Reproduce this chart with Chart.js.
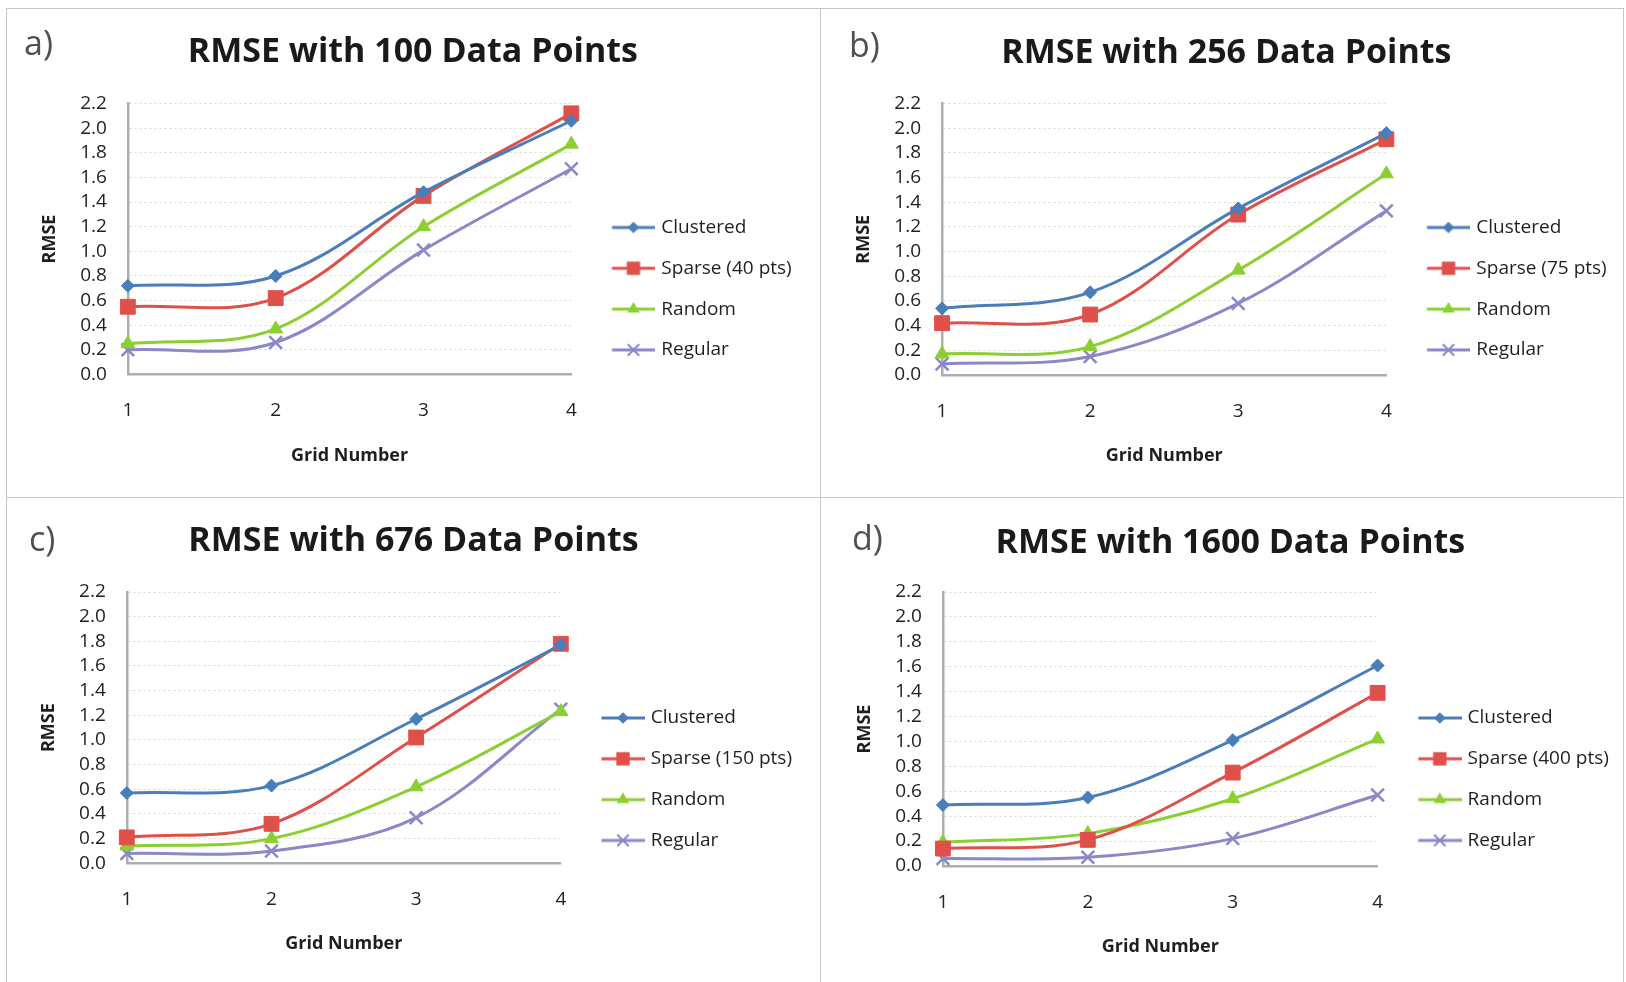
<!DOCTYPE html>
<html><head><meta charset="utf-8">
<script src="https://cdn.jsdelivr.net/npm/chart.js@4.4.1/dist/chart.umd.min.js"></script>
<style>
html,body{margin:0;padding:0;background:#fff;width:1626px;height:982px;overflow:hidden;position:relative}
.ln{position:absolute;background:#c6c6c6}
canvas{position:absolute}
.lab{position:absolute;font-family:'Open Sans',sans-serif;font-size:34px;color:#505050;line-height:34px;white-space:nowrap}
</style></head><body>
<div class="ln" style="left:6px;top:8px;width:1618px;height:1px"></div>
<div class="ln" style="left:6px;top:8px;width:1px;height:974px"></div>
<div class="ln" style="left:1623px;top:8px;width:1px;height:974px"></div>
<div class="ln" style="left:820px;top:8px;width:1px;height:974px"></div>
<div class="ln" style="left:6px;top:497px;width:1618px;height:1px"></div>
<script>
// ---- data ----
const gridNumbers = ['1', '2', '3', '4'];
const panelTitles = ['RMSE with 100 Data Points', 'RMSE with 256 Data Points', 'RMSE with 676 Data Points', 'RMSE with 1600 Data Points'];
const panelLetters = ['a)', 'b)', 'c)', 'd)'];
const sparseNames = ['Sparse (40 pts)', 'Sparse (75 pts)', 'Sparse (150 pts)', 'Sparse (400 pts)'];
const seriesNames = ['Clustered', 'Sparse', 'Random', 'Regular'];

const clustered100 = [0.72, 0.80, 1.48, 2.06];
const sparse100    = [0.55, 0.62, 1.45, 2.12];
const random100    = [0.25, 0.37, 1.20, 1.87];
const regular100   = [0.20, 0.26, 1.01, 1.67];

const clustered256 = [0.54, 0.67, 1.35, 1.96];
const sparse256    = [0.42, 0.49, 1.30, 1.91];
const random256    = [0.17, 0.23, 0.85, 1.63];
const regular256   = [0.09, 0.15, 0.58, 1.33];

const clustered676 = [0.57, 0.63, 1.17, 1.77];
const sparse676    = [0.21, 0.32, 1.02, 1.78];
const random676    = [0.14, 0.20, 0.62, 1.23];
const regular676   = [0.08, 0.10, 0.37, 1.25];

const clustered1600 = [0.49, 0.55, 1.01, 1.61];
const sparse1600    = [0.14, 0.21, 0.75, 1.39];
const random1600    = [0.19, 0.26, 0.54, 1.02];
const regular1600   = [0.06, 0.07, 0.22, 0.57];

const yMin = 0, yMax = 2.2, yStep = 0.2;

// ---- styles / layout ----
const FONT = "'Open Sans', sans-serif";
const colors = ['#4a7ebb', '#e0504a', '#8ccf32', '#8a88c8'];
const styles = ['rectRot', 'rect', 'triangle', 'crossRot'];
const radii = [6.5, 10.5, 8, 9];
const panelGeom = [
  {L0: 6,   R0: 820,  T0: 8,   B0: 497, plotL: 127.5, plotR: 571,    plotT: 103.5, plotB: 374.5, tcx: 412.5, tcy: 52.5, ytx: 49.5, lx: 24,  lb: 55,  leg1: 227.5},
  {L0: 820, R0: 1624, T0: 8,   B0: 497, plotL: 941.7, plotR: 1386,   plotT: 103.5, plotB: 375,   tcx: 1226,  tcy: 53,   ytx: 864,  lx: 849, lb: 57,  leg1: 227.5},
  {L0: 6,   R0: 820,  T0: 497, B0: 982, plotL: 127,   plotR: 561,    plotT: 592,   plotB: 863.3, tcx: 413.7, tcy: 541.7, ytx: 49,  lx: 29,  lb: 551, leg1: 718},
  {L0: 820, R0: 1624, T0: 497, B0: 982, plotL: 942.5, plotR: 1377.2, plotT: 592,   plotB: 866,   tcx: 1230,  tcy: 543,  ytx: 864,  lx: 852, lb: 550, leg1: 718}
];
const panelData = [
  [clustered100, sparse100, random100, regular100],
  [clustered256, sparse256, random256, regular256],
  [clustered676, sparse676, random676, regular676],
  [clustered1600, sparse1600, random1600, regular1600]
];

const LEG_FS = 19, LEG_PAD = 21.8, LEG_BW = 58.7;
const TITLE_FS = 34, AX_TITLE_FS = 18, TICK_FS = 19;

function legendImage(i) {
  const c = document.createElement('canvas');
  c.width = 66; c.height = 26;
  const g = c.getContext('2d');
  g.strokeStyle = colors[i]; g.fillStyle = colors[i];
  g.lineWidth = 3;
  g.beginPath(); g.moveTo(22.5, 13); g.lineTo(66, 13); g.stroke();
  const cx = 44, cy = 13, r = radii[i] * 0.9;
  g.lineWidth = 2;
  g.beginPath();
  if (styles[i] === 'rectRot') {
    g.moveTo(cx, cy - r); g.lineTo(cx + r, cy); g.lineTo(cx, cy + r); g.lineTo(cx - r, cy); g.closePath(); g.fill();
  } else if (styles[i] === 'rect') {
    const s = r * Math.SQRT1_2; g.rect(cx - s, cy - s, 2 * s, 2 * s); g.fill();
  } else if (styles[i] === 'triangle') {
    g.moveTo(cx, cy - r); g.lineTo(cx + r * 0.866, cy + r * 0.5); g.lineTo(cx - r * 0.866, cy + r * 0.5); g.closePath(); g.fill();
  } else {
    const d = r * Math.SQRT1_2;
    g.moveTo(cx - d, cy - d); g.lineTo(cx + d, cy + d); g.moveTo(cx + d, cy - d); g.lineTo(cx - d, cy + d); g.stroke();
  }
  return c;
}
const legendImgs = [0, 1, 2, 3].map(legendImage);

function measure(text, font) {
  const c = document.createElement('canvas').getContext('2d');
  c.font = font; return c.measureText(text).width;
}

function build() {
  panelGeom.forEach((G, p) => {
    const names = [seriesNames[0], sparseNames[p], seriesNames[2], seriesNames[3]];
    const maxText = Math.max(...names.map(n => measure(n, LEG_FS + 'px ' + FONT)));
    const C = LEG_PAD + LEG_BW + LEG_FS / 2 + maxText + 10;
    let L = 2 * G.tcx - G.plotR - C;
    const Lmax = G.ytx - AX_TITLE_FS * 0.6 - 1;
    if (L > Lmax) L = Lmax;
    const legW = 2 * G.tcx - G.plotR - L;
    let right = Math.max(G.R0, G.plotR + legW);
    const W = Math.round(right - L);
    const padR = (L + W) - (G.plotR + legW);
    const T = G.T0, H = G.B0 - G.T0;
    const tlh = TITLE_FS * 1.2;
    const tPadTop = G.tcy - T - tlh / 2;
    const tPadBot = G.plotT - T - tPadTop - tlh;
    const xH = 81 + AX_TITLE_FS * 0.6;
    const padB = (T + H) - (G.plotB + xH);
    const legTitleH = G.leg1 - T - LEG_PAD - LEG_FS / 2;

    const cv = document.createElement('canvas');
    cv.width = W; cv.height = H;
    cv.style.left = L + 'px'; cv.style.top = T + 'px';
    cv.style.width = W + 'px'; cv.style.height = H + 'px';
    document.body.appendChild(cv);

    const lab = document.createElement('div');
    lab.className = 'lab'; lab.textContent = panelLetters[p];
    lab.style.left = G.lx + 'px'; lab.style.top = (G.lb - 30.2) + 'px';
    document.body.appendChild(lab);

    const datasets = panelData[p].map((arr, i) => ({
      label: names[i],
      data: arr,
      borderColor: colors[i],
      backgroundColor: colors[i],
      pointBackgroundColor: colors[i],
      pointBorderColor: colors[i],
      borderWidth: 3,
      pointStyle: styles[i],
      pointRadius: radii[i],
      pointBorderWidth: styles[i] === 'crossRot' ? 2.5 : 1,
      tension: 0.35,
      fill: false,
      clip: false
    }));

    new Chart(cv, {
      type: 'line',
      data: {labels: gridNumbers, datasets},
      options: {
        responsive: false, animation: false, devicePixelRatio: 1,
        layout: {padding: {left: 0, top: 0, right: padR, bottom: padB}},
        plugins: {
          title: {display: true, text: panelTitles[p], color: '#1a1a1a',
                  font: {family: FONT, size: TITLE_FS, weight: 'bold'},
                  padding: {top: tPadTop, bottom: tPadBot}},
          legend: {
            position: 'right', align: 'start', fullSize: true, maxWidth: legW,
            title: {display: true, text: ' ', font: {family: FONT, size: 10}, padding: {top: legTitleH - 12, bottom: 0}},
            labels: {
              font: {family: FONT, size: LEG_FS}, color: '#1f1f1f',
              padding: LEG_PAD, usePointStyle: true, pointStyleWidth: LEG_BW,
              generateLabels: (chart) => chart.data.datasets.map((ds, i) => ({
                text: ds.label, fillStyle: ds.backgroundColor, strokeStyle: ds.borderColor,
                lineWidth: 0, pointStyle: legendImgs[i], hidden: false, datasetIndex: i, fontColor: '#1f1f1f'
              }))
            }
          },
          tooltip: {enabled: false}
        },
        scales: {
          x: {
            type: 'category', offset: false,
            grid: {display: false, drawTicks: false},
            border: {display: true, color: '#a9b1b0', width: 2.5},
            ticks: {font: {family: FONT, size: TICK_FS}, color: '#222', padding: 36.5 - TICK_FS * 0.6, maxRotation: 0, autoSkip: false},
            title: {display: true, text: 'Grid Number', color: '#1f1f1f',
                    font: {family: FONT, size: AX_TITLE_FS, weight: 'bold'}, padding: {top: 0, bottom: 0}},
            afterFit: (s) => { s.height = xH; }
          },
          y: {
            min: yMin, max: yMax,
            grid: {color: '#d5dccb', lineWidth: 1, drawTicks: false},
            border: {display: true, color: '#a9b1b0', width: 2.5, dash: [2, 3]},
            ticks: {stepSize: yStep, autoSkip: false, font: {family: FONT, size: TICK_FS}, color: '#222', padding: 21,
                    callback: (v) => Number(v).toFixed(1)},
            title: {display: true, text: 'RMSE', color: '#1f1f1f',
                    font: {family: FONT, size: AX_TITLE_FS, weight: 'bold'},
                    padding: {top: G.ytx - L - AX_TITLE_FS * 0.6, bottom: 0}},
            afterFit: (s) => { s.width = G.plotL - L; }
          }
        }
      }
    });
  });
}
if (document.fonts && document.fonts.ready) { document.fonts.ready.then(build); } else { build(); }
</script>
</body></html>
